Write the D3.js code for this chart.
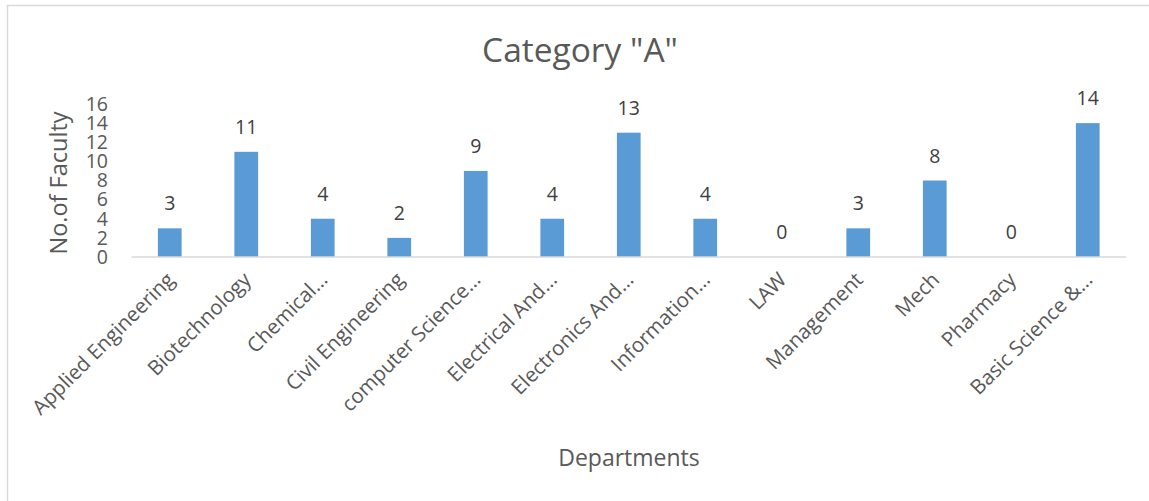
<!DOCTYPE html>
<html>
<head>
<meta charset="utf-8">
<script src="https://cdn.jsdelivr.net/npm/d3@7"></script>
<style>
  body { margin: 0; background: #fff; }
  svg text { font-family: "Open Sans", sans-serif; }
</style>
</head>
<body>
<div id="chart"></div>
<script>
const departments = ["Applied Engineering", "Biotechnology", "Chemical…", "Civil Engineering",
    "computer Science…", "Electrical And…", "Electronics And…", "Information…", "LAW",
    "Management", "Mech", "Pharmacy", "Basic Science &…"];
const faculty = [3, 11, 4, 2, 9, 4, 13, 4, 0, 3, 8, 0, 14];
const yTicks = [0, 2, 4, 6, 8, 10, 12, 14, 16];

const data = departments.map((d, i) => ({ dept: d, value: faculty[i] }));

const width = 1149, height = 501;
const margin = { top: 104, right: 23, bottom: 244, left: 131.5 };

const svg = d3.select("#chart").append("svg")
    .attr("width", width).attr("height", height);

// chart frame
svg.append("rect")
    .attr("x", 7.5).attr("y", 5.5)
    .attr("width", width + 10).attr("height", height + 10)
    .attr("fill", "none")
    .attr("stroke", "#d9d9d9")
    .attr("stroke-width", 1.5);

const x = d3.scaleBand()
    .domain(departments)
    .range([margin.left, width - margin.right])
    .paddingInner(0.69)
    .paddingOuter(0.345);

const y = d3.scaleLinear()
    .domain([0, 16])
    .range([height - margin.bottom, margin.top]);

// bars
svg.selectAll("rect.bar")
    .data(data)
    .enter().append("rect")
    .attr("class", "bar")
    .attr("x", d => x(d.dept))
    .attr("y", d => y(d.value))
    .attr("width", x.bandwidth())
    .attr("height", d => y(0) - y(d.value))
    .attr("fill", "#5b9bd5");

// x axis line
svg.append("line")
    .attr("x1", margin.left).attr("x2", width - margin.right)
    .attr("y1", y(0)).attr("y2", y(0))
    .attr("stroke", "#d9d9d9")
    .attr("stroke-width", 1.5);

// y tick labels
svg.selectAll("text.ytick")
    .data(yTicks)
    .enter().append("text")
    .attr("class", "ytick")
    .attr("x", 108)
    .attr("y", d => y(d))
    .attr("dy", "0.35em")
    .attr("text-anchor", "end")
    .attr("font-size", 19.5)
    .attr("fill", "#595959")
    .text(d => d);

// data labels
svg.selectAll("text.label")
    .data(data)
    .enter().append("text")
    .attr("class", "label")
    .attr("x", d => x(d.dept) + x.bandwidth() / 2)
    .attr("y", d => y(d.value) - 18)
    .attr("text-anchor", "middle")
    .attr("font-size", 19.5)
    .attr("fill", "#404040")
    .text(d => d.value);

// category labels
svg.selectAll("text.cat")
    .data(departments)
    .enter().append("text")
    .attr("class", "cat")
    .attr("transform", d => `translate(${x(d) + x.bandwidth() / 2 + 6},${y(0) + 24}) rotate(-45)`)
    .attr("text-anchor", "end")
    .attr("font-size", 20.5)
    .attr("fill", "#595959")
    .text(d => d);

// title
svg.append("text")
    .attr("x", 580).attr("y", 62)
    .attr("text-anchor", "middle")
    .attr("font-size", 33.5)
    .attr("fill", "#595959")
    .text('Category "A"');

// axis titles
svg.append("text")
    .attr("transform", `translate(67,${183}) rotate(-90)`)
    .attr("text-anchor", "middle")
    .attr("font-size", 23.5)
    .attr("fill", "#595959")
    .text("No.of Faculty");

svg.append("text")
    .attr("x", 629).attr("y", 466)
    .attr("text-anchor", "middle")
    .attr("font-size", 23)
    .attr("fill", "#595959")
    .text("Departments");
</script>
</body>
</html>
